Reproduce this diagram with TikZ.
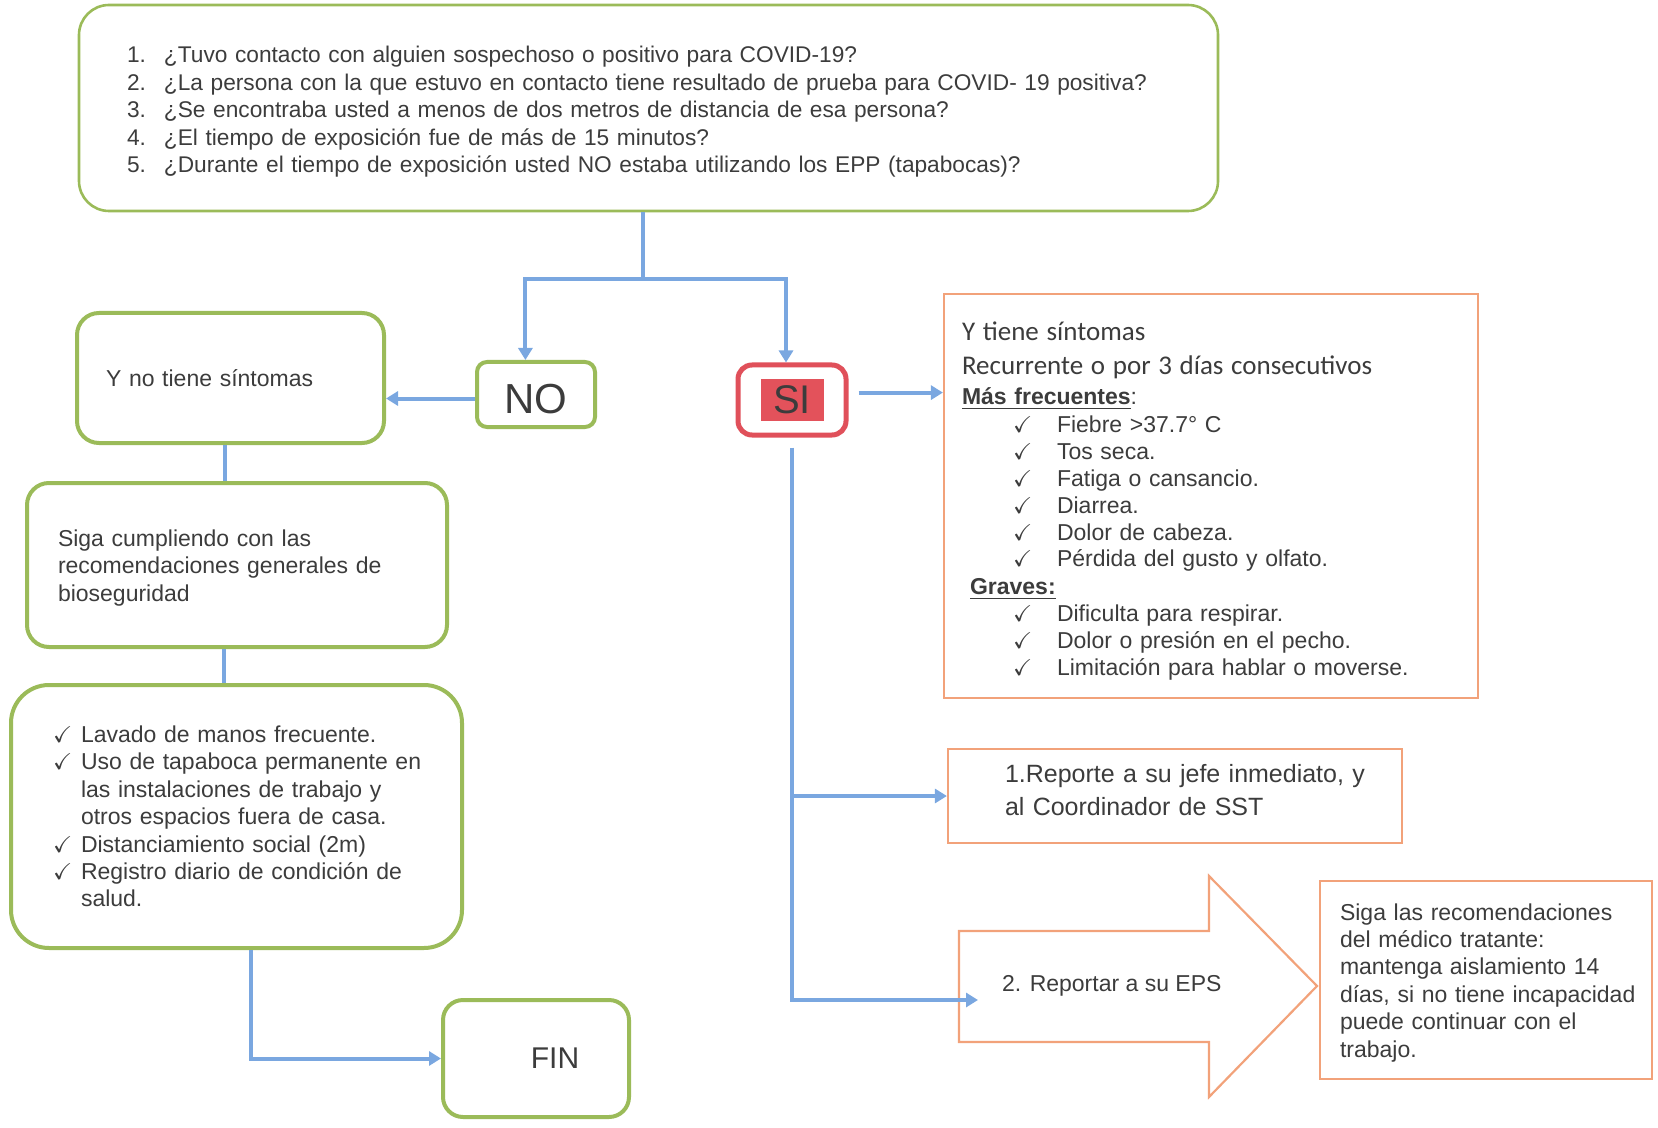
\documentclass[tikz,border=0pt]{standalone}
\usepackage{fontspec}
\usepackage{amssymb}
\setmainfont{Liberation Sans}
\newfontfamily\calfont{Carlito}
\usetikzlibrary{arrows.meta}
\definecolor{gline}{HTML}{9BBB59}
\definecolor{bline}{HTML}{7AA7E0}
\definecolor{oline}{HTML}{F2A27A}
\definecolor{rline}{HTML}{E0505A}
\definecolor{rfill}{HTML}{E3525B}
\definecolor{txt}{HTML}{3C3C3C}
\newcommand{\ckm}[1][14pt]{\makebox[#1][l]{$\checkmark$}}
\newcommand{\num}[1]{\makebox[18.5pt][l]{#1}}
\newcommand{\sitem}{\hspace*{25.5pt}\ckm[22pt]}
\begin{document}
\begin{tikzpicture}[
  x=0.5pt, y=-0.5pt,
  every node/.style={text=txt},
  gnode/.style={draw=gline, line width=2pt, rounded corners=11pt, align=left},
  onode/.style={draw=oline, line width=1.1pt, align=left},
  rnode/.style={draw=rline, line width=2.5pt, rounded corners=7pt, inner sep=0pt},
  conn/.style={draw=bline, line width=2pt},
  arr/.style={conn, -{Triangle[length=6pt,width=7pt]}},
  txt11/.style={font=\fontsize{11.5}{13.7}\selectfont}
]
  \useasboundingbox (0,0) rectangle (1658,1128);

  % questions
  \node[gnode, line width=1.3pt, rounded corners=15pt, minimum height=103pt,
        inner xsep=24pt, text width=521.5pt, font=\fontsize{11.35}{13.7}\selectfont]
    (q) at (648.5,108) {%
    \rule{0pt}{12pt}\num{1.}¿Tuvo contacto con alguien sospechoso o positivo para COVID-19?\\
    \num{2.}¿La persona con la que estuvo en contacto tiene resultado de prueba para COVID- 19 positiva?\\
    \num{3.}¿Se encontraba usted a menos de dos metros de distancia de esa persona?\\
    \num{4.}¿El tiempo de exposición fue de más de 15 minutos?\\
    \num{5.}¿Durante el tiempo de exposición usted NO estaba utilizando los EPP (tapabocas)?};

  % NO branch
  \node[gnode, rounded corners=5pt, minimum width=59pt, minimum height=32.5pt,
        font=\fontsize{21}{24}\selectfont] (no) at (536,394.5) {\rule{0pt}{19.3pt}NO};
  \node[gnode, minimum height=65pt, inner xsep=14.5pt, text width=124.5pt, txt11]
    (nosint) at (230.5,378) {Y no tiene síntomas};
  \node[gnode, minimum height=82pt, inner xsep=15.5pt, text width=179pt, txt11]
    (siga) at (237,565) {\rule{0pt}{11pt}Siga cumpliendo con las\\recomendaciones generales de\\bioseguridad};
  \node[gnode, rounded corners=19pt, minimum height=131.5pt, inner xsep=21pt,
        text width=183.5pt, txt11] (chk) at (236.5,816.5) {%
    \ckm Lavado de manos frecuente.\\
    \mbox{\ckm Uso de tapaboca permanente en}\\
    \hspace*{14pt}las instalaciones de trabajo y\\
    \hspace*{14pt}otros espacios fuera de casa.\\
    \ckm Distanciamiento social (2m)\\
    \ckm Registro diario de condición de\\
    \hspace*{14pt}salud.};
  \node[gnode, rounded corners=10pt, minimum width=93pt, minimum height=58.5pt,
        font=\fontsize{15}{18}\selectfont] (fin) at (536,1058.5) {\hspace*{19pt}FIN};

  % SI branch
  \node[rnode, minimum width=54pt, minimum height=35pt] (si) at (792,400)
    {\setlength{\fboxsep}{0pt}\colorbox{rfill}{\makebox[31.5pt]{\rule[-4pt]{0pt}{21pt}\fontsize{20}{22}\selectfont SI}}};
  \node[onode, minimum height=202pt, inner xsep=9pt, text width=249pt,
        font=\fontsize{11.5}{13.4}\selectfont] (sint) at (1211,496) {%
    {\calfont\fontsize{13.5}{16}\selectfont\rule{0pt}{14.5pt}Y tiene síntomas}\\[3.6pt]
    {\calfont\fontsize{13.5}{16}\selectfont Recurrente o por 3 días consecutivos}\\[1.6pt]
    \underline{\textbf{Más frecuentes}}:\\[0.6pt]
    \sitem Fiebre >37.7° C\\
    \sitem Tos seca.\\
    \sitem Fatiga o cansancio.\\
    \sitem Diarrea.\\
    \sitem Dolor de cabeza.\\
    \sitem Pérdida del gusto y olfato.\\[0.6pt]
    \hspace*{4pt}\underline{\textbf{Graves:}}\\
    \sitem Dificulta para respirar.\\
    \sitem Dolor o presión en el pecho.\\
    \sitem Limitación para hablar o moverse.};
  \node[onode, minimum height=47pt, inner xsep=28.5pt, text width=170pt,
        font=\fontsize{12.5}{16.5}\selectfont] (rep) at (1175,796)
    {\mbox{1.Reporte a su jefe inmediato, y}\\al Coordinador de SST\rule[-6.3pt]{0pt}{1pt}};
  \draw[draw=oline, line width=1.1pt] (959,931) -- (1209,931) -- (1209,876)
    -- (1317,986) -- (1209,1097) -- (1209,1042) -- (959,1042) -- cycle;
  \node[anchor=west, txt11] (eps) at (995,986) {2. Reportar a su EPS};
  \coordinate (epsin) at (978,1000);
  \node[onode, minimum height=99pt, inner xsep=10pt, text width=146pt, txt11]
    (rec) at (1486,980) {\rule{0pt}{11pt}Siga las recomendaciones\\del médico tratante:\\mantenga aislamiento 14\\\mbox{días, si no tiene incapacidad}\\puede continuar con el\\trabajo.};

  % connectors
  \draw[conn] ([xshift=-2.6pt]q.south) -- ++(0,67) coordinate (split);
  \draw[arr] (split) -| ([xshift=-5.3pt]no.north);
  \draw[arr] (split) -| ([xshift=-3pt]si.north);
  \draw[arr] ([yshift=-2pt]no.west) -- ([yshift=-2pt]no.west -| nosint.east);
  \draw[conn] ([xshift=-3pt]nosint.south) -- ([xshift=-3pt]nosint.south |- siga.north);
  \draw[conn] ([xshift=-6.3pt]siga.south) -- ([xshift=-6.3pt]siga.south |- chk.north);
  \draw[arr] ([xshift=7pt]chk.south) |- (fin.west);
  \draw[arr, shorten <=5pt] ([yshift=3.7pt]si.east) -- ([yshift=3.7pt]si.east -| sint.west);
  \draw[arr, shorten <=5pt] (si.south) |- (epsin);
  \draw[arr] (si.south |- rep.west) -- (rep.west);
\end{tikzpicture}
\end{document}
